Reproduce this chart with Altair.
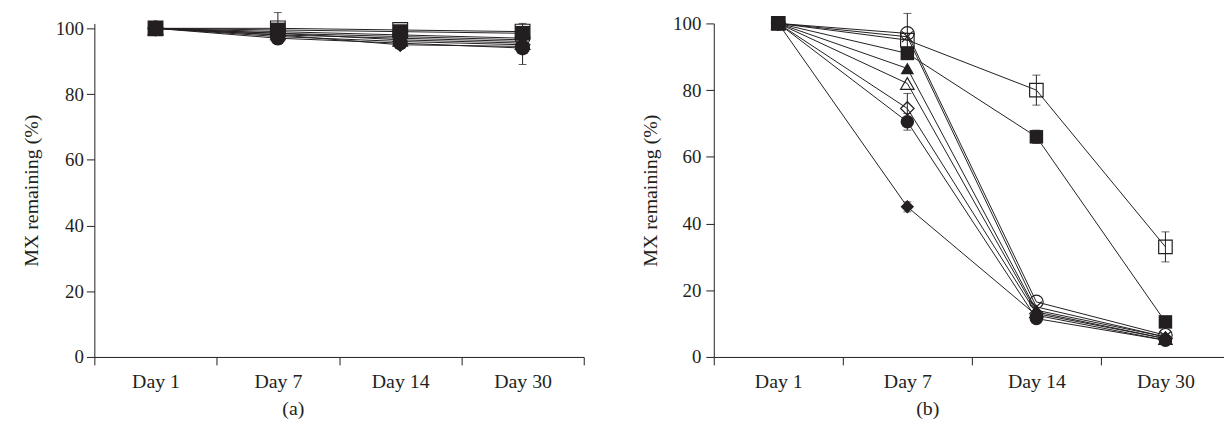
import altair as alt
import pandas as pd

INK = "#231f20"
FONT = "Liberation Serif"

days = ["Day 1", "Day 7", "Day 14", "Day 30"]
series = ["S1", "S2", "S3", "S4", "S5", "S6", "S7", "S8", "S9"]
shapes = ["circle", "square", "M-0.8,-0.8L0.8,0.8M-0.8,0.8L0.8,-0.8", "square",
          "triangle-up", "triangle-up", "diamond", "circle", "diamond"]
filled = [0, 0, 0, 1, 1, 0, 0, 1, 1]

# Panel (a): values (%) per series at Day 1, 7, 14, 30 and their error (+/-)
a_s1 = [100, 99.0, 98.0, 97.0]
a_s2 = [100, 100.0, 99.5, 99.0]
a_s3 = [100, 98.5, 97.5, 96.5]
a_s4 = [100, 99.5, 99.0, 98.5]
a_s5 = [100, 98.0, 97.0, 96.0]
a_s6 = [100, 98.5, 96.5, 95.5]
a_s7 = [100, 97.5, 96.0, 95.0]
a_s8 = [100, 97.0, 95.5, 94.0]
a_s9 = [100, 98.0, 95.0, 94.5]
a_e2 = [0, 4.8, 0, 2.5]
a_e8 = [0, 0, 0, 5.0]

# Panel (b)
b_s1 = [100, 97.0, 16.5, 6.5]
b_s2 = [100, 95.0, 80.0, 33.0]
b_s3 = [100, 96.0, 15.0, 6.0]
b_s4 = [100, 91.0, 66.0, 10.5]
b_s5 = [100, 86.5, 14.0, 6.0]
b_s6 = [100, 82.0, 13.5, 5.5]
b_s7 = [100, 74.5, 13.0, 5.5]
b_s8 = [100, 70.5, 11.5, 5.0]
b_s9 = [100, 45.0, 12.5, 5.0]
b_e1 = [0, 6.0, 0, 0]
b_e2 = [0, 0, 4.5, 4.5]
b_e4 = [0, 1.5, 2.0, 0]
b_e7 = [0, 4.5, 0, 0]
b_e8 = [0, 2.5, 0, 0]
b_e9 = [0, 1.5, 0, 0]

zero = [0, 0, 0, 0]
a_vals = [a_s1, a_s2, a_s3, a_s4, a_s5, a_s6, a_s7, a_s8, a_s9]
a_errs = [zero, a_e2, zero, zero, zero, zero, zero, a_e8, zero]
b_vals = [b_s1, b_s2, b_s3, b_s4, b_s5, b_s6, b_s7, b_s8, b_s9]
b_errs = [b_e1, b_e2, zero, b_e4, zero, zero, b_e7, b_e8, b_e9]


def frame(vals, errs):
    rows = []
    for s, f, v, e in zip(series, filled, vals, errs):
        for i, d in enumerate(days):
            rows.append({"series": s, "filled": f, "pos": i + 1, "day": d, "value": v[i],
                         "err": e[i], "lo": v[i] - e[i], "hi": v[i] + e[i]})
    return pd.DataFrame(rows)


label_expr = " : ".join(
    f"datum.value == {i + 1} ? '{d}'" for i, d in enumerate(days)) + " : ''"


def panel(df, width, height, xmax, ymax, tick_vals, caption, cap_x, msize,
          ylab_pad, ytitle_pad):
    xaxis = alt.Axis(
        values=tick_vals, labelExpr=label_expr, grid=False,
        tickOpacity={"condition": {"test": "datum.value % 1 == 0", "value": 0}, "value": 1},
        tickSize=8, tickColor=INK, tickWidth=1, domainColor=INK, domainWidth=1,
        labelFont=FONT, labelFontSize=20, labelColor=INK, labelPadding=7,
        labelFlush=False, labelOverlap=False, labelBound=False,
        title=caption, titleFont=FONT, titleFontSize=20, titleFontWeight="normal",
        titleColor=INK, titleX=cap_x, titleY=52, titleAlign="center",
        titleBaseline="middle",
    )
    yaxis = alt.Axis(
        values=[0, 20, 40, 60, 80, 100], grid=False, tickSize=8, tickColor=INK,
        domainColor=INK, labelFont=FONT, labelFontSize=19, labelColor=INK,
        labelPadding=ylab_pad, title="MX remaining (%)", titleFont=FONT,
        titleFontSize=20, titleFontWeight="normal", titleColor=INK,
        titlePadding=ytitle_pad,
    )
    sc = alt.Scale(domain=[0.5, xmax], nice=False, zero=False)
    x = alt.X("pos:Q", scale=sc, axis=xaxis)
    xs = alt.X("pos:Q", scale=sc)
    y = alt.Y("value:Q", scale=alt.Scale(domain=[0, ymax], nice=False), axis=yaxis)
    shape = alt.Shape("series:N", scale=alt.Scale(domain=series, range=shapes), legend=None)
    base = alt.Chart(df)
    lines = base.mark_line(color=INK, strokeWidth=1).encode(
        x=x, y=y, detail="series:N", order="pos:Q")
    eb = base.transform_filter("datum.err > 0")
    rule = eb.mark_rule(color=INK, strokeWidth=1).encode(x=xs, y="lo:Q", y2="hi:Q")
    cap_lo = eb.mark_tick(color=INK, orient="horizontal", size=8, thickness=1).encode(x=xs, y="lo:Q")
    cap_hi = eb.mark_tick(color=INK, orient="horizontal", size=8, thickness=1).encode(x=xs, y="hi:Q")
    open_pts = base.transform_filter("datum.filled == 0").mark_point(
        filled=False, stroke=INK, strokeWidth=1.2, opacity=1, size=msize).encode(
        x=xs, y="value:Q", shape=shape)
    full_pts = base.transform_filter("datum.filled == 1").mark_point(
        filled=True, color=INK, opacity=1, size=msize).encode(
        x=xs, y="value:Q", shape=shape)
    return alt.layer(lines, rule, cap_lo, cap_hi, open_pts, full_pts).properties(
        width=width, height=height)


pa = panel(frame(a_vals, a_errs), 493, 336, 4.5, 101.5,
           [0.5, 1, 1.5, 2, 2.5, 3, 3.5, 4, 4.5], "(a)", 200, 220, 3, 14)
pb = panel(frame(b_vals, b_errs), 514, 336, 0.5 + 514 / 130, 100,
           [0.5, 1, 1.5, 2, 2.5, 3, 3.5, 4], "(b)", 215, 185, 5, 12)

chart = alt.hconcat(pa, pb, spacing=131, bounds="flush").properties(
    padding={"left": 13, "top": 2, "right": 0, "bottom": 0}
).configure_view(stroke=None)

chart.save("out.html", embed_options={"renderer": "svg", "actions": False})
